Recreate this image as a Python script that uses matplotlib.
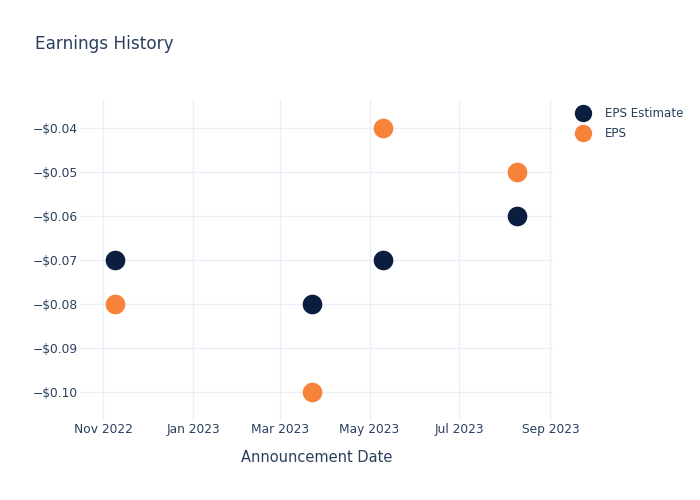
import matplotlib
matplotlib.use("Agg")
import matplotlib.pyplot as plt
import matplotlib.dates as mdates
from matplotlib.lines import Line2D
from matplotlib.ticker import FuncFormatter
import datetime as dt

dates = ["2022-11-09", "2023-03-23", "2023-05-10", "2023-08-09"]
eps_estimate = [-0.07, -0.08, -0.07, -0.06]
eps_actual = [-0.08, -0.10, -0.04, -0.05]
series_labels = ["EPS Estimate", "EPS"]
x_ticks = ["2022-11-01", "2023-01-01", "2023-03-01", "2023-05-01", "2023-07-01", "2023-09-01"]
y_ticks = [-0.10, -0.09, -0.08, -0.07, -0.06, -0.05, -0.04]

TEXT = "#2a3f5f"
GRID = "#ebf0f8"
NAVY = "#0c1e3f"
ORANGE = "#f7823a"

xd = [dt.datetime.strptime(d, "%Y-%m-%d") for d in dates]
xt = [dt.datetime.strptime(d, "%Y-%m-%d") for d in x_ticks]

fig = plt.figure(figsize=(7, 5), dpi=100)
ax = fig.add_axes([80/700, 80/500, 473.3/700, 320/500])

ax.scatter(xd, eps_estimate, s=200, color=NAVY, zorder=3, linewidths=0)
ax.scatter(xd, eps_actual, s=200, color=ORANGE, zorder=3, linewidths=0)

ax.set_xlim(dt.datetime(2022, 10, 16, 5), dt.datetime(2023, 9, 2, 22))
ax.set_ylim(-0.10645, -0.03355)

ax.set_xticks(xt)
ax.xaxis.set_major_formatter(mdates.DateFormatter("%b %Y"))
ax.set_yticks(y_ticks)
ax.yaxis.set_major_formatter(FuncFormatter(lambda v, p: ("\u2212" if v < 0 else "") + "${:.2f}".format(abs(v))))

for s in ax.spines.values():
    s.set_visible(False)
ax.grid(True, color=GRID, linewidth=1)
ax.set_axisbelow(True)
ax.tick_params(length=0, colors=TEXT, labelsize=8.8)
ax.tick_params(axis="x", pad=2.5)
ax.tick_params(axis="y", pad=1.5)

ax.set_xlabel("Announcement Date", color=TEXT, fontsize=10.5, labelpad=10)

fig.text(35/700, 1 - 44/500, "Earnings History", color=TEXT, fontsize=12.2, va="center", ha="left")

handles = [Line2D([], [], linestyle="none", marker="o", markersize=11.5, color=NAVY),
           Line2D([], [], linestyle="none", marker="o", markersize=11.5, color=ORANGE)]
leg = fig.legend(handles, series_labels, loc="upper left", bbox_to_anchor=(576/700, 1 - 107/500),
                 frameon=False, fontsize=8.6, handlelength=1.2, handletextpad=1.25,
                 labelspacing=0.6, borderaxespad=0, borderpad=0)
for t in leg.get_texts():
    t.set_color(TEXT)

fig.savefig("out.png", dpi=100)
